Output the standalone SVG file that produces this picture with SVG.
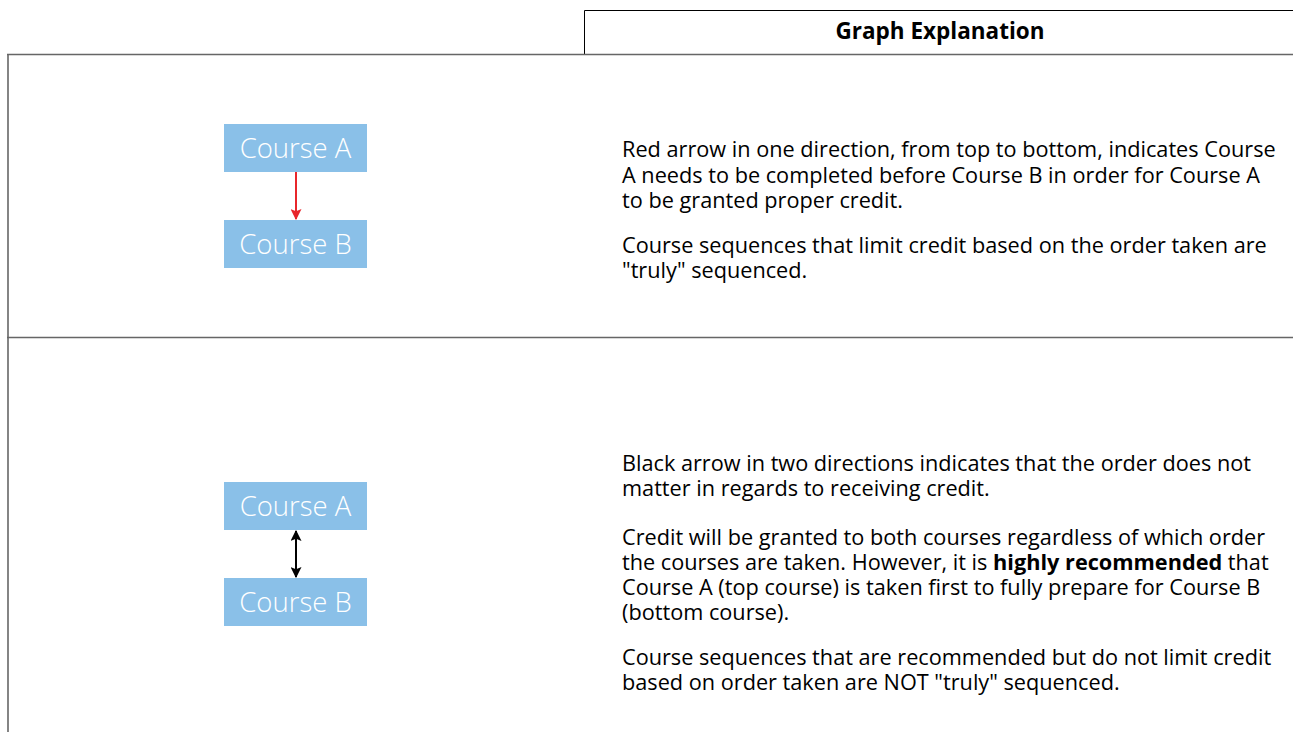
<svg xmlns="http://www.w3.org/2000/svg" width="1293" height="732" viewBox="0 0 1293 732">
<style>
.body{font-family:"Open Sans","Noto Sans","Liberation Sans",sans-serif;font-size:21.7px;fill:#000}
.hdr{font-family:"Open Sans","Noto Sans","Liberation Sans",sans-serif;font-size:22.5px;font-weight:700;fill:#000}
.box{fill:#8AC0E8}
.lbl{font-family:"Open Sans","Noto Sans","Liberation Sans",sans-serif;font-size:27.5px;font-weight:300;fill:#fff;text-anchor:middle}
.rule{stroke:#666;stroke-width:1.6;fill:none}
.thin{stroke:#000;stroke-width:1;fill:none}
</style>
<defs>
<marker id="redHead" viewBox="0 0 10 10" refX="9" refY="5" markerWidth="11" markerHeight="11" markerUnits="userSpaceOnUse" orient="auto">
<path d="M0,0 L10,5 L0,10 L2,5 Z" fill="#E8262B"/>
</marker>
<marker id="blkHead" viewBox="0 0 10 10" refX="9" refY="5" markerWidth="11" markerHeight="11" markerUnits="userSpaceOnUse" orient="auto-start-reverse">
<path d="M0,0 L10,5 L0,10 L2,5 Z" fill="#000"/>
</marker>
</defs>
<rect width="1293" height="732" fill="#fff"/>
<g id="table">
<path class="thin" d="M584.5,54 V10.5 H1293"/>
<path class="rule" d="M7,54.5 H1293"/>
<path class="rule" d="M8,54 V732"/>
<path class="rule" d="M7,337.5 H1293"/>
</g>
<text class="hdr" x="940" y="39" text-anchor="middle">Graph Explanation</text>
<g id="nodeA1">
<rect class="box" x="224" y="124" width="143" height="48"/>
<text class="lbl" x="295.5" y="158">Course A</text>
</g>
<g id="nodeB1">
<rect class="box" x="224" y="220" width="143" height="48"/>
<text class="lbl" x="295.5" y="254">Course B</text>
</g>
<g id="nodeA2">
<rect class="box" x="224" y="482" width="143" height="48"/>
<text class="lbl" x="295.5" y="516">Course A</text>
</g>
<g id="nodeB2">
<rect class="box" x="224" y="578" width="143" height="48"/>
<text class="lbl" x="295.5" y="612">Course B</text>
</g>
<g id="connectors">
<line x1="296" y1="172" x2="296" y2="219" stroke="#E8262B" stroke-width="2" marker-end="url(#redHead)"/>
<line x1="296" y1="531" x2="296" y2="577" stroke="#000" stroke-width="2" marker-start="url(#blkHead)" marker-end="url(#blkHead)"/>
</g>
<g id="explanations" class="body">
<text class="body" x="622" y="157">Red arrow in one direction, from top to bottom, indicates Course</text>
<text class="body" x="622" y="183">A needs to be completed before Course B in order for Course A</text>
<text class="body" x="622" y="208">to be granted proper credit.</text>
<text class="body" x="622" y="253">Course sequences that limit credit based on the order taken are</text>
<text class="body" x="622" y="278">"truly" sequenced.</text>
<text class="body" x="622" y="471">Black arrow in two directions indicates that the order does not</text>
<text class="body" x="622" y="496">matter in regards to receiving credit.</text>
<text class="body" x="622" y="545">Credit will be granted to both courses regardless of which order</text>
<text class="body" x="622" y="570">the courses are taken. However, it is <tspan font-weight="700">highly recommended</tspan> that</text>
<text class="body" x="622" y="595">Course A (top course) is taken first to fully prepare for Course B</text>
<text class="body" x="622" y="620">(bottom course).</text>
<text class="body" x="622" y="665">Course sequences that are recommended but do not limit credit</text>
<text class="body" x="622" y="690">based on order taken are NOT "truly" sequenced.</text>
</g>
</svg>
